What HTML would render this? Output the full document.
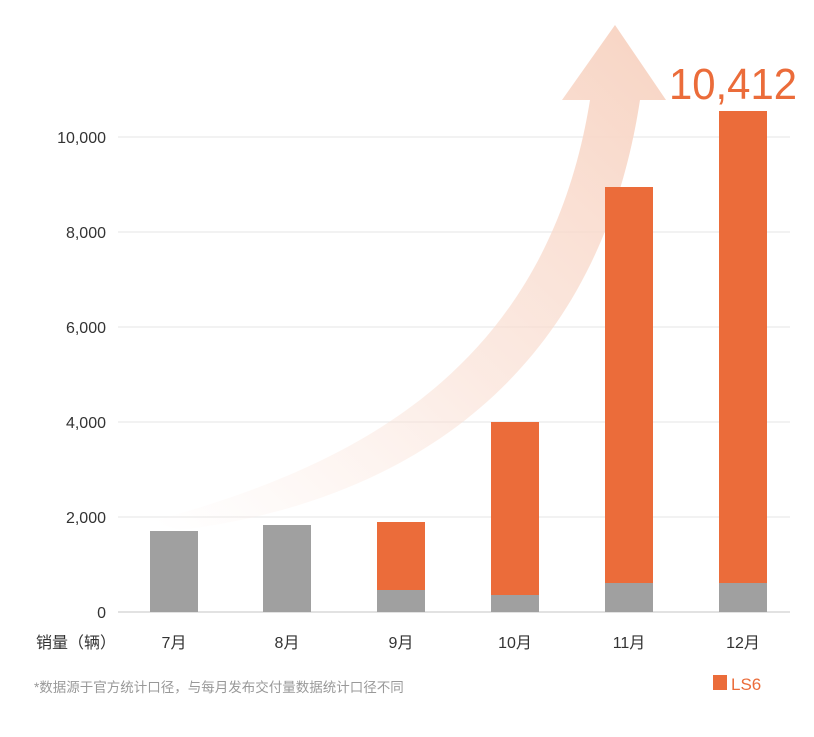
<!DOCTYPE html>
<html><head><meta charset="utf-8"><style>
body{margin:0;background:#fff;}
svg text{font-family:"Liberation Sans","Noto Sans CJK SC",sans-serif;}
</style></head><body>
<svg width="814" height="732" viewBox="0 0 814 732" xmlns="http://www.w3.org/2000/svg">
<defs>
<linearGradient id="g" x1="150" y1="520" x2="615" y2="30" gradientUnits="userSpaceOnUse">
<stop offset="0" stop-color="#fbe3d9" stop-opacity="0"/>
<stop offset="0.5" stop-color="#f9dccf" stop-opacity="0.6"/>
<stop offset="1" stop-color="#f8d6c6" stop-opacity="1"/>
</linearGradient>
</defs>
<g stroke="#e6e6e6" stroke-width="1">
<line x1="118" y1="137" x2="790" y2="137"/>
<line x1="118" y1="232" x2="790" y2="232"/>
<line x1="118" y1="327" x2="790" y2="327"/>
<line x1="118" y1="422" x2="790" y2="422"/>
<line x1="118" y1="517" x2="790" y2="517"/>
<line x1="118" y1="612" x2="790" y2="612" stroke="#d8d8d8" stroke-width="1.5"/>
</g>
<path d="M150 522 C 340 470, 545 380, 590 100 L 562 100 L 615 25 L 666 100 L 640 100 C 595 395, 385 505, 180 530 Z" fill="url(#g)"/>
<g fill="#a0a0a0">
<rect x="150" y="531" width="48" height="81"/>
<rect x="263" y="525" width="48" height="87"/>
<rect x="377" y="590" width="48" height="22"/>
<rect x="491" y="595" width="48" height="17"/>
<rect x="605" y="583" width="48" height="29"/>
<rect x="719" y="583" width="48" height="29"/>
</g>
<g fill="#eb6c3a">
<rect x="377" y="522" width="48" height="68"/>
<rect x="491" y="422" width="48" height="173"/>
<rect x="605" y="187" width="48" height="396"/>
<rect x="719" y="111" width="48" height="472"/>
</g>
<g fill="#333" font-size="16" text-anchor="end">
<text x="106" y="143">10,000</text>
<text x="106" y="238">8,000</text>
<text x="106" y="333">6,000</text>
<text x="106" y="428">4,000</text>
<text x="106" y="523">2,000</text>
<text x="106" y="618">0</text>
</g>
<g fill="#333" font-size="16" text-anchor="middle">
<text x="76" y="648">销量（辆）</text>
<text x="174" y="648">7月</text>
<text x="287" y="648">8月</text>
<text x="401" y="648">9月</text>
<text x="515" y="648">10月</text>
<text x="629" y="648">11月</text>
<text x="743" y="648">12月</text>
</g>
<text x="34" y="692" font-size="13.5" fill="#999">*数据源于官方统计口径，与每月发布交付量数据统计口径不同</text>
<rect x="713" y="675" width="14" height="15" fill="#eb6c3a"/>
<text x="731" y="690" font-size="17" fill="#eb6c3a">LS6</text>
<text x="797" y="99" font-size="44" fill="#eb6c3a" text-anchor="end" textLength="128" lengthAdjust="spacingAndGlyphs">10,412</text>
</svg>
</body></html>
